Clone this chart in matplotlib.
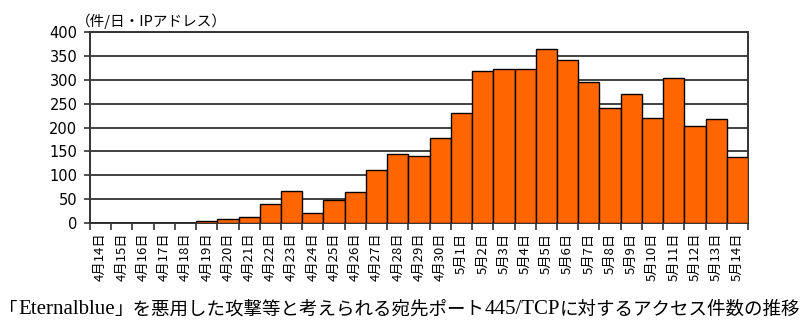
import numpy as np
import matplotlib
matplotlib.use("Agg")
import matplotlib.pyplot as plt

plt.rcParams['font.family'] = ['Noto Sans CJK JP', 'DejaVu Sans']

# daily access counts (件/日・IPアドレス), 4/14 - 5/14
april_days = list(range(14, 31))
may_days = list(range(1, 15))
labels = [f"4月{d}日" for d in april_days] + [f"5月{d}日" for d in may_days]
counts = [0, 0, 0, 0, 0, 5, 8, 13, 39, 68, 20, 48, 65, 112, 144, 141, 178,
          230, 319, 323, 323, 365, 342, 296, 241, 271, 220, 303, 203, 217, 138]
yticks = [0, 50, 100, 150, 200, 250, 300, 350, 400]

# caption pieces: (text, serif?)
caption_parts = [("「", False), ("Eternalblue", True),
                 ("」を悪用した攻撃等と考えられる宛先ポート", False), ("445/TCP", True),
                 ("に対するアクセス件数の推移", False)]

bar_color = '#ff6600'
line_color = '#333333'

fig = plt.figure(figsize=(8.0, 3.27), dpi=100)
ax = fig.add_axes([0.1125, 0.318, 0.8225, 0.584])

x = np.arange(len(counts))
ax.bar(x, counts, width=1.0, color=bar_color, edgecolor='black', linewidth=1.0, zorder=3)

ax.set_xlim(-0.5, len(counts) - 0.5)
ax.set_ylim(0, 400)
ax.set_yticks(yticks)
ax.set_yticklabels([str(v) for v in yticks], family=['DejaVu Sans'])
ax.yaxis.grid(True, color=line_color, linewidth=1.3, zorder=0)

# category labels centred, tick marks between categories
ax.set_xticks(x)
ax.set_xticklabels(labels, rotation=90, va='top', ha='center', fontsize=9.5)
ax.set_xticks(np.arange(len(counts) + 1) - 0.5, minor=True)
ax.tick_params(axis='x', which='major', length=0, pad=7)
ax.tick_params(axis='x', which='minor', length=5, width=1.2, color=line_color)
ax.tick_params(axis='y', length=4, width=1.2, color=line_color, labelsize=10.5, pad=5)

for side in ['left', 'right', 'top', 'bottom']:
    ax.spines[side].set_color(line_color)
    ax.spines[side].set_linewidth(1.4)

fig.text(0.095, 0.935, "（件/日・IPアドレス）", fontsize=10.5, ha='left', va='center')

# caption built from pieces so the latin parts can be serif
renderer = fig.canvas.get_renderer()
texts = []
for part, serif in caption_parts:
    fam = ['Liberation Serif'] if serif else ['Noto Sans CJK JP', 'DejaVu Sans']
    size = 15 if serif else 13.3
    texts.append(fig.text(0, 0.052, part, family=fam, fontsize=size, ha='left', va='center'))
widths = [t.get_window_extent(renderer).width for t in texts]
x0 = (800 - sum(widths)) / 2
for t, w in zip(texts, widths):
    t.set_x(x0 / 800)
    x0 += w

fig.savefig("out.png", dpi=100)
